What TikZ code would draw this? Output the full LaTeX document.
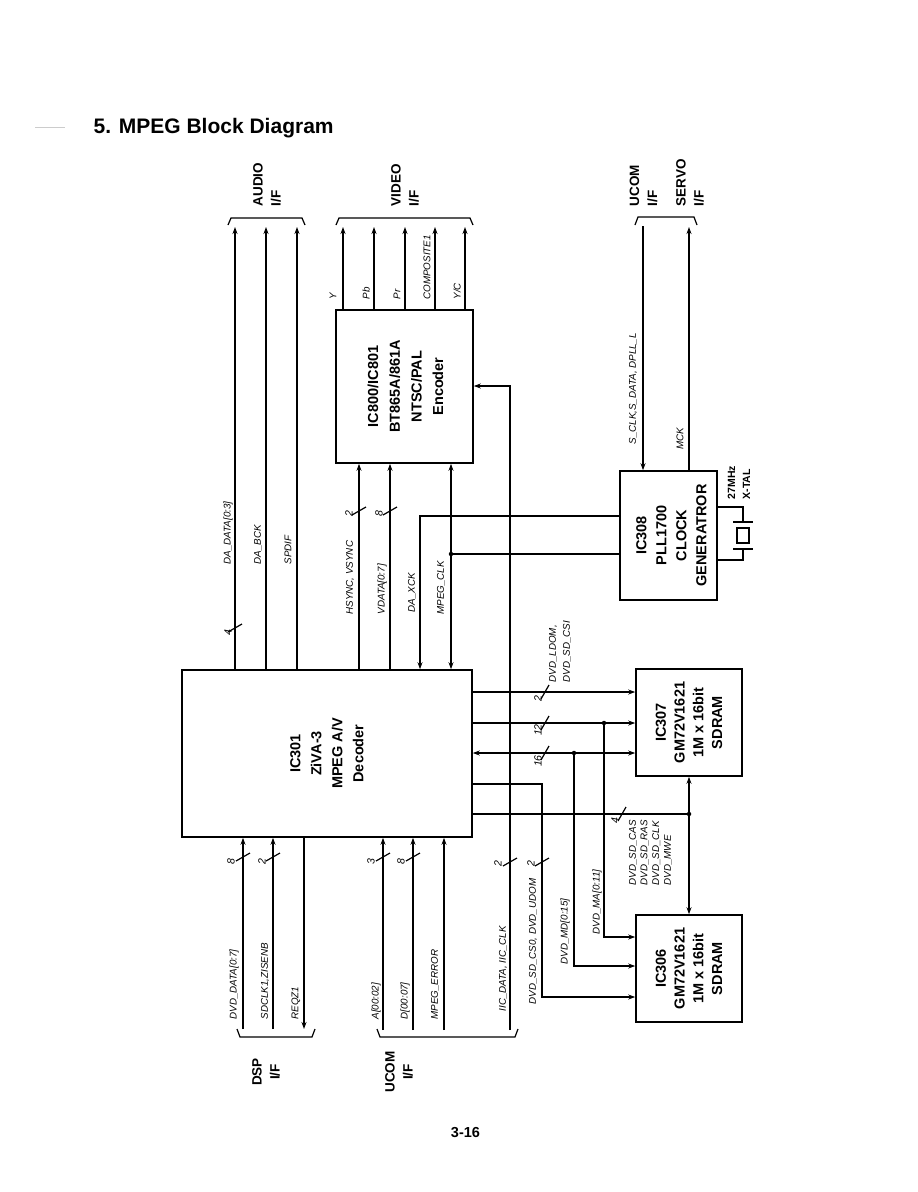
\documentclass[tikz,border=0pt]{standalone}
\usepackage{fontspec}
\setmainfont{Liberation Sans}
\usetikzlibrary{arrows.meta}
\begin{document}
\begin{tikzpicture}[x=1pt,y=-1pt,
  line width=1.2pt,
  arr/.style={-{Stealth[length=7pt,width=5pt]}},
  darr/.style={{Stealth[length=7pt,width=5pt]}-{Stealth[length=7pt,width=5pt]}},
  box/.style={draw,line width=1.6pt,inner sep=0pt},
  btxt/.style={rotate=90,align=center,inner sep=0pt,font=\bfseries\fontsize{14.5}{21}\selectfont},
  sig/.style={rotate=90,anchor=west,inner sep=0pt,font=\itshape\fontsize{9.8}{11.7}\selectfont},
  num/.style={rotate=90,inner sep=0pt,font=\itshape\fontsize{10.5}{12}\selectfont},
  iflbl/.style={rotate=90,inner sep=0pt,font=\bfseries\fontsize{13.5}{18}\selectfont},
  dot/.style={circle,fill,inner sep=0pt,minimum size=4.5pt},
  vsl/.pic={\draw (-7,4) -- (7,-4);},
  hsl/.pic={\draw (-4,7) -- (4,-7);},
]
\useasboundingbox (0,0) rectangle (918,1192);
\fill[white] (0,0) rectangle (918,1192);

% title
\draw[gray!40,line width=0.6pt] (35,127) -- (65,127);
\node[anchor=base west,inner sep=0pt,font=\bfseries\fontsize{21}{25}\selectfont] (title) at (93,133) {5. MPEG Block Diagram};
\node[anchor=base,inner sep=0pt,font=\bfseries\fontsize{14.5}{17}\selectfont] (page) at (465.5,1137) {3-16};

% boxes
\node[box,minimum width=290pt,minimum height=167pt] (dec) at (327,753.5) {};
\node[btxt] (dect) at (dec.center) {IC301\\ZiVA-3\\MPEG A/V\\Decoder};
\node[box,minimum width=137pt,minimum height=153pt] (enc) at (404.5,386.5) {};
\node[btxt,font=\bfseries\fontsize{14.5}{21.7}\selectfont] (enct) at ([xshift=1pt]enc.center) {IC800/IC801\\BT865A/861A\\NTSC/PAL\\Encoder};
\node[box,minimum width=97pt,minimum height=129pt] (clk) at (668.5,535.5) {};
\node[btxt,font=\bfseries\fontsize{14.5}{20}\selectfont] (clkt) at ([xshift=3pt]clk.center) {IC308\\PLL1700\\CLOCK\\GENERATROR};
\node[box,minimum width=106pt,minimum height=107pt] (ram7) at (689,722.5) {};
\node[btxt,font=\bfseries\fontsize{14.5}{18.7}\selectfont] (ram7t) at (ram7.center) {IC307\\GM72V1621\\1M x 16bit\\SDRAM};
\node[box,minimum width=106pt,minimum height=107pt] (ram6) at (689,968.5) {};
\node[btxt,font=\bfseries\fontsize{14.5}{18.7}\selectfont] (ram6t) at (ram6.center) {IC306\\GM72V1621\\1M x 16bit\\SDRAM};

% interface labels
\node[iflbl,anchor=west,align=left] (audif) at (267,207) {AUDIO\\I/F};
\node[iflbl,anchor=west,align=left] (vidif) at (405,207) {VIDEO\\I/F};
\node[iflbl,anchor=west,align=left] (ucomif) at (643.5,207) {UCOM\\I/F};
\node[iflbl,anchor=west,align=left] (servif) at (690,207) {SERVO\\I/F};
\node[iflbl,align=center] (dspif) at (266,1072) {DSP\\I/F};
\node[iflbl,align=center] (ucomif2) at (399,1072) {UCOM\\I/F};

% braces
\draw (228,225) -- (231,218) -- (302,218) -- (305,225);
\draw (336,225) -- (339,218) -- (470,218) -- (473,225);
\draw (635,225) -- (638,217) -- (694,217) -- (697,225);
\draw (237,1029) -- (240,1037) -- (312,1037) -- (315,1029);
\draw (377,1029) -- (380,1037) -- (515,1037) -- (518,1029);

% named end points
\coordinate (au1) at (235,227);
\coordinate (au2) at (266,227);
\coordinate (au3) at (297,227);
\coordinate (v1) at (343,227);
\coordinate (v2) at (374,227);
\coordinate (v3) at (405,227);
\coordinate (v4) at (435,227);
\coordinate (v5) at (465,227);
\coordinate (uc) at (643,226);
\coordinate (sv) at (689,227);
\coordinate (hs) at (359,600);
\coordinate (vd) at (390,600);
\coordinate (xk) at (420,516);
\coordinate (ic) at (510,386);
\coordinate (b1) at (243,1029);
\coordinate (b2) at (273,1029);
\coordinate (b3) at (304,1029);
\coordinate (b4) at (383,1030);
\coordinate (b5) at (413,1030);
\coordinate (b6) at (444,1030);
\coordinate (b7) at (510,1030);
\coordinate (r1) at (560,692);
\coordinate (r2) at (560,723);
\coordinate (r3) at (560,753);
\coordinate (ma) at (604,937);
\coordinate (md) at (574,966);
\coordinate (cs1) at (542,784);
\coordinate (cs2) at (542,997);

\node[dot] (d1) at (451,554) {};
\node[dot] (d2) at (604,723) {};
\node[dot] (d3) at (574,753) {};
\node[dot] (d4) at (689,814) {};

% audio outputs
\draw[arr] (au1 |- dec.north) -- (au1);
\draw[arr] (au2 |- dec.north) -- (au2);
\draw[arr] (au3 |- dec.north) -- (au3);
% video outputs
\draw[arr] (v1 |- enc.north) -- (v1);
\draw[arr] (v2 |- enc.north) -- (v2);
\draw[arr] (v3 |- enc.north) -- (v3);
\draw[arr] (v4 |- enc.north) -- (v4);
\draw[arr] (v5 |- enc.north) -- (v5);
% decoder to encoder
\draw[arr] (hs |- dec.north) -- (hs |- enc.south);
\draw[arr] (vd |- dec.north) -- (vd |- enc.south);
% clocks
\draw[arr] (xk -| clk.west) -- (xk) -- (xk |- dec.north);
\draw (d1 -| clk.west) -- (d1.center);
\draw[arr] (d1.center) -- (d1 |- enc.south);
\draw[arr] (d1.center) -- (d1 |- dec.north);
% IIC
\draw[arr] (b7) -- (ic) -- (ic -| enc.east);
% ucom / servo
\draw[arr] (uc) -- (uc |- clk.north);
\draw[arr] (sv |- clk.north) -- (sv);
% crystal
\draw (clk.east |- 0,507) -- (743,507) -- (743,522);
\draw (733,522) -- (753,522);
\draw (737,528) rectangle (749,543);
\draw (733,549) -- (753,549);
\draw (743,549) -- (743,560) -- (clk.east |- 0,560);
% SDRAM buses
\draw[arr] (r1 -| dec.east) -- (r1 -| ram7.west);
\draw[arr] (r2 -| dec.east) -- (r2 -| ram7.west);
\draw[darr] (r3 -| dec.east) -- (r3 -| ram7.west);
\draw[arr] (d2.center) -- (ma) -- (ma -| ram6.west);
\draw[arr] (d3.center) -- (md) -- (md -| ram6.west);
\draw[arr] (cs1 -| dec.east) -- (cs1) -- (cs2) -- (cs2 -| ram6.west);
\draw (d4 -| dec.east) -- (d4.center);
\draw[arr] (d4.center) -- (d4 |- ram7.south);
\draw[arr] (d4.center) -- (d4 |- ram6.north);
% bottom inputs
\draw[arr] (b1) -- (b1 |- dec.south);
\draw[arr] (b2) -- (b2 |- dec.south);
\draw[arr] (b3 |- dec.south) -- (b3);
\draw[arr] (b4) -- (b4 |- dec.south);
\draw[arr] (b5) -- (b5 |- dec.south);
\draw[arr] (b6) -- (b6 |- dec.south);

% bus slashes
\pic at (235,628) {vsl};
\pic at (359,511) {vsl};
\pic at (390,511) {vsl};
\pic at (545,692) {hsl};
\pic at (545,723) {hsl};
\pic at (545,753) {hsl};
\pic at (622,814) {hsl};
\pic at (243,857) {vsl};
\pic at (273,857) {vsl};
\pic at (383,857) {vsl};
\pic at (413,857) {vsl};
\pic at (510,862) {vsl};
\pic at (542,862) {vsl};

% bus widths
\node[num] (n1) at (228,633) {4};
\node[num] (n2) at (349,514) {2};
\node[num] (n3) at (379,514) {8};
\node[num] (n4) at (538,699) {2};
\node[num] (n5) at (538,730) {12};
\node[num] (n6) at (538,761) {16};
\node[num] (n7) at (615,821) {4};
\node[num] (n8) at (231,862) {8};
\node[num] (n9) at (262,862) {2};
\node[num] (n10) at (371,862) {3};
\node[num] (n11) at (401,862) {8};
\node[num] (n12) at (498,864) {2};
\node[num] (n13) at (531,864) {2};

% signal labels
\node[sig] (l1) at (228,565) {DA\_DATA[0:3]};
\node[sig] (l2) at (258,565) {DA\_BCK};
\node[sig] (l3) at (288,565) {SPDIF};
\node[sig] (l4) at (350,615) {HSYNC, VSYNC};
\node[sig] (l5) at (382,615) {VDATA[0:7]};
\node[sig] (l6) at (412,613) {DA\_XCK};
\node[sig] (l7) at (441,615) {MPEG\_CLK};
\node[sig] (l8) at (333,300) {Y};
\node[sig] (l9) at (366,300) {Pb};
\node[sig] (l10) at (397,300) {Pr};
\node[sig] (l11) at (427,300) {COMPOSITE1};
\node[sig] (l12) at (457,300) {Y/C};
\node[sig] (l13) at (633,445) {S\_CLK,S\_DATA, DPLL\_L};
\node[sig] (l14) at (680,450) {MCK};
\node[sig,align=left,font=\itshape\fontsize{9.8}{14}\selectfont] (l15) at (560,683) {DVD\_LDOM,\\DVD\_SD\_CSI};
\node[sig,align=left] (l16) at (650.5,886) {DVD\_SD\_CAS\\DVD\_SD\_RAS\\DVD\_SD\_CLK\\DVD\_MWE};
\node[sig] (l17) at (597,935) {DVD\_MA[0:11]};
\node[sig] (l18) at (565,965) {DVD\_MD[0:15]};
\node[sig] (l19) at (533,1005) {DVD\_SD\_CS0, DVD\_UDOM};
\node[sig] (l20) at (503,1012) {IIC\_DATA, IIC\_CLK};
\node[sig] (l21) at (234,1020) {DVD\_DATA[0:7]};
\node[sig] (l22) at (265,1020) {SDCLK1,ZISENB};
\node[sig] (l23) at (296,1020) {REQZ1};
\node[sig] (l24) at (376,1020) {A[00:02]};
\node[sig] (l25) at (405,1020) {D[00:07]};
\node[sig] (l26) at (435,1020) {MPEG\_ERROR};
\node[iflbl,anchor=west,align=left,font=\bfseries\fontsize{10.5}{15}\selectfont] (xtal) at (739,500) {27MHz\\X-TAL};
\end{tikzpicture}
\end{document}
